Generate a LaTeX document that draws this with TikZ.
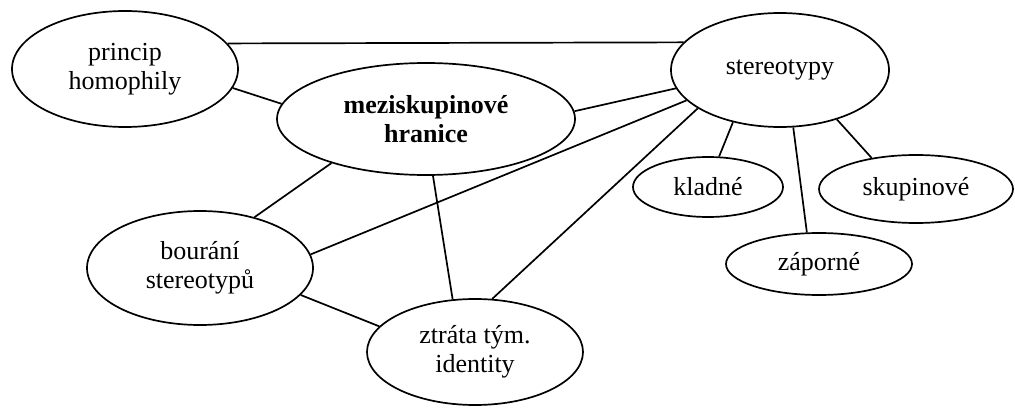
\documentclass[tikz,border=0pt]{standalone}
\usepackage{fontspec}
\setmainfont{Liberation Serif}
\usetikzlibrary{shapes.geometric}
\begin{document}
\begin{tikzpicture}[x=1pt,y=-1pt,
  bub/.style={draw, ellipse, line width=1.7pt, inner sep=0pt, align=center,
    font=\fontsize{26}{29}\selectfont},
  link/.style={line width=1.7pt}]
\useasboundingbox (0,0) rectangle (1015,409);
\node[bub, minimum width=226pt, minimum height=116pt] (ph) at (125,69) {princip\\homophily};
\node[bub, minimum width=298pt, minimum height=112pt, font=\fontsize{26}{29}\selectfont\bfseries] (mh) at (426,119) {meziskupinové\\hranice};
\node[bub, minimum width=218pt, minimum height=114pt] (st) at (780,70) {stereotypy};
\node[bub, minimum width=150pt, minimum height=60pt] (kl) at (708,187) {kladné};
\node[bub, minimum width=194pt, minimum height=68pt] (sk) at (916,189) {skupinové};
\node[bub, minimum width=186pt, minimum height=62pt] (za) at (819,264) {záporné};
\node[bub, minimum width=226pt, minimum height=114pt] (bs) at (200,268) {bourání\\stereotypů};
\node[bub, minimum width=216pt, minimum height=106pt] (zt) at (475,352) {ztráta tým.\\identity};
\draw[link] (ph.14) -- (st.164);
\draw[link] (ph.-10.6) -- (mh.174.4);
\draw[link] (mh.3) -- (st.190.4);
\draw[link] (bs.7.3) -- (st.198.6);
\draw[link] (zt.72) -- (st.205);
\draw[link] (st.228.4) -- (kl.70);
\draw[link] (st.283) -- (za.111);
\draw[link] (st.319) -- (sk.145.4);
\draw[link] (mh.205) -- (bs.43.4);
\draw[link] (mh.277) -- (zt.113.9);
\draw[link] (bs.-15) -- (zt.165.8);
\end{tikzpicture}
\end{document}
